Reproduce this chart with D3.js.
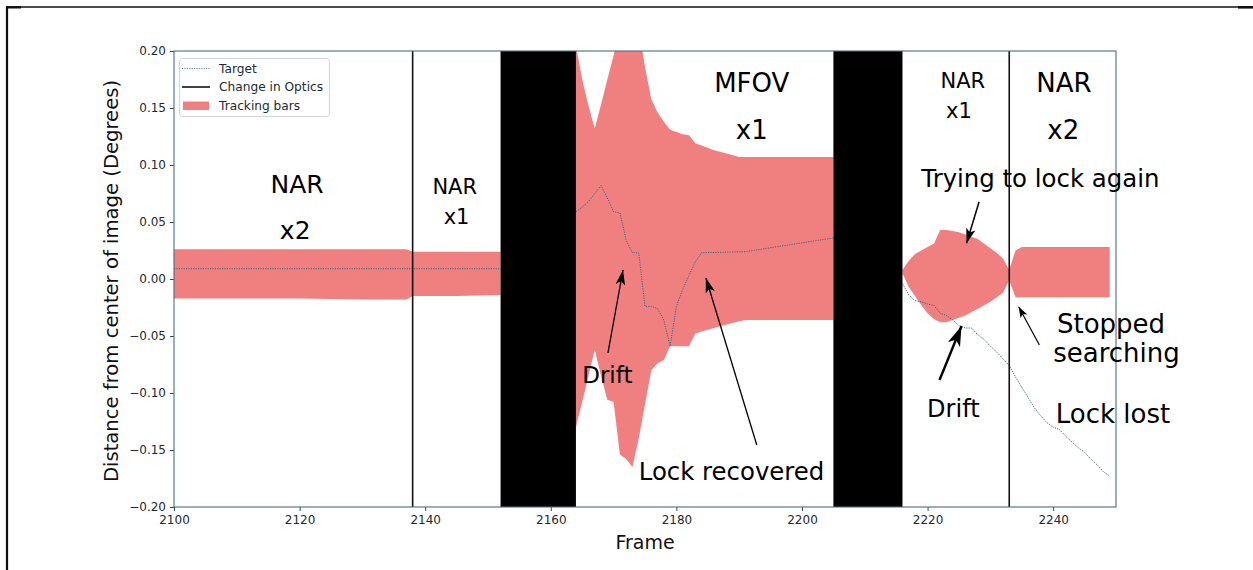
<!DOCTYPE html>
<html><head><meta charset="utf-8">
<script src="https://cdn.jsdelivr.net/npm/d3@7"></script>
<style>
html,body{margin:0;padding:0;background:#fff;}
svg{display:block;font-family:"DejaVu Sans",sans-serif;}
</style></head>
<body>
<svg id="chart" width="1253" height="570"></svg>
<script>
// ---------------- data ----------------
const xTicks = [2100, 2120, 2140, 2160, 2180, 2200, 2220, 2240];
const yTicks = [0.20, 0.15, 0.10, 0.05, 0.00, -0.05, -0.10, -0.15, -0.20];

// tracking bars (null = gap)
const barFrames = [2100,2110,2120,2130,2137,2138,2145,2152, null,
  2164,2165,2166,2167,2168,2169,2170,2171,2172,2173,2174,2175,2176,2177,2178,2179,2180,2181,2182,2183,2184,2186,2188,2190,2191,2205, null,
  2216,2217,2218,2219,2220,2221,2222,2223,2224,2225,2226,2227,2228,2229,2230,2231,2232,2233,2234,2235,2236,2249];
const barUpper = [0.026,0.026,0.026,0.026,0.026,0.024,0.024,0.024, null,
  0.205,0.175,0.152,0.132,0.153,0.175,0.196,0.22,0.22,0.22,0.22,0.186,0.158,0.146,0.138,0.131,0.129,0.127,0.126,0.119,0.117,0.113,0.110,0.107,0.107,0.107, null,
  0.008,0.016,0.022,0.025,0.028,0.031,0.043,0.043,0.042,0.041,0.039,0.037,0.035,0.031,0.027,0.023,0.018,0.008,0.025,0.028,0.028,0.028];
const barLower = [-0.017,-0.017,-0.017,-0.018,-0.018,-0.015,-0.015,-0.014, null,
  -0.130,-0.108,-0.085,-0.062,-0.085,-0.106,-0.108,-0.154,-0.158,-0.165,-0.140,-0.110,-0.080,-0.074,-0.071,-0.059,-0.059,-0.059,-0.059,-0.048,-0.046,-0.043,-0.040,-0.037,-0.036,-0.036, null,
  0.005,-0.007,-0.015,-0.023,-0.030,-0.035,-0.038,-0.038,-0.036,-0.034,-0.032,-0.029,-0.026,-0.023,-0.020,-0.016,-0.012,-0.001,-0.016,-0.016,-0.016,-0.016];

// target position (null = gap)
const targetFrames = [2100,2152, null,
  2164,2165,2166,2167,2168,2169,2170,2171,2172,2173,2174,2175,2176,2177,2178,2179,2180,2181,2182,2183,2184,2191,2198,2205, null,
  2216,2217,2218,2219,2220,2221,2222,2223,2224,2225,2226,2227,2228,2229,2230,2231,2232,2233,2234,2235,2236,2237,2238,2239,2240,2241,2242,2243,2244,2245,2246,2247,2248,2249];
const targetValues = [0.009,0.009, null,
  0.059,0.063,0.068,0.075,0.082,0.071,0.059,0.058,0.034,0.023,0.023,-0.024,-0.024,-0.026,-0.036,-0.059,-0.024,-0.009,0.003,0.015,0.023,0.024,0.030,0.036, null,
  -0.004,-0.014,-0.019,-0.020,-0.022,-0.023,-0.030,-0.032,-0.036,-0.041,-0.043,-0.043,-0.049,-0.053,-0.059,-0.064,-0.070,-0.076,-0.086,-0.095,-0.104,-0.113,-0.120,-0.126,-0.130,-0.132,-0.138,-0.143,-0.148,-0.152,-0.158,-0.163,-0.169,-0.173];

const opticsChanges = [2138, 2233];
const blackoutStart = [2152, 2205];
const blackoutEnd   = [2164, 2216];

// annotation texts: [text, frame, value, anchor, size]
const labelTexts  = ["NAR","x2","NAR","x1","MFOV","x1","NAR","x1","NAR","x2",
  "Trying to lock again","Drift","Lock recovered","Drift","Stopped","searching","Lock lost"];
const labelFrames = [2119.6,2119.3,2144.7,2145.0,2192.0,2192.0,2225.6,2225.0,2241.7,2241.6,
  2119.0+100,2169.0,2174.0,2224.1,2240.6,2240.0,2240.4];
const labelValues = [0.0754,0.0351,0.0746,0.0482,0.164,0.1228,0.1675,0.1412,0.164,0.1228,
  0.0807,-0.0912,-0.1763,-0.121,-0.0474,-0.0728,-0.1263];
const labelAnchor = ["middle","middle","middle","middle","middle","middle","middle","middle","middle","middle",
  "start","middle","start","middle","start","start","start"];
const labelSizes  = [25,25,21,21,26,26,21,21,26,26,24.4,23,24.4,24,26,26,26];

// arrows: from (frame,value) to tip (frame,value)
const arrowFromF = [2169.1, 2192.8, 2228.2, 2221.9, 2237.8];
const arrowFromV = [-0.0649, -0.1456, 0.0678, -0.0886, -0.0579];
const arrowToF   = [2171.5, 2184.7, 2226.2, 2225.4, 2234.5];
const arrowToV   = [0.0079, 0.0009, 0.0313, -0.0412, -0.0243];
const arrowWidth = [1.3, 1.3, 1.5, 2.4, 1.2];

// ---------------- drawing ----------------
const svg = d3.select("#chart");
const W = 1253, H = 570;
const plot = {left:174, right:1116, top:51, bottom:507};
const x = d3.scaleLinear().domain([2100, 2250]).range([plot.left, plot.right]);
const y = d3.scaleLinear().domain([-0.20, 0.20]).range([plot.bottom, plot.top]);

// figure frame
svg.append("line").attr("x1",6).attr("x2",1240).attr("y1",7).attr("y2",7).attr("stroke","#111").attr("stroke-width",1.6);
svg.append("line").attr("x1",1238).attr("x2",1253).attr("y1",7.3).attr("y2",7.3).attr("stroke","#111").attr("stroke-width",2.6);
svg.append("line").attr("x1",7).attr("x2",7).attr("y1",6).attr("y2",570).attr("stroke","#111").attr("stroke-width",2.2);
svg.append("line").attr("x1",6).attr("x2",21).attr("y1",7.3).attr("y2",7.3).attr("stroke","#111").attr("stroke-width",2.4);

svg.append("defs").append("clipPath").attr("id","clip")
  .append("rect").attr("x",plot.left).attr("y",plot.top)
  .attr("width",plot.right-plot.left).attr("height",plot.bottom-plot.top);

const g = svg.append("g").attr("clip-path","url(#clip)");

const bars = barFrames.map((f,i)=>({f, u:barUpper[i], l:barLower[i]}));
const area = d3.area().defined(d=>d.f!=null && d.u!=null)
  .x(d=>x(d.f)).y0(d=>y(d.l)).y1(d=>y(d.u));
g.append("path").datum(bars).attr("d",area).attr("fill","#f08080");

const tgt = targetFrames.map((f,i)=>({f, v:targetValues[i]}));
const line = d3.line().defined(d=>d.f!=null && d.v!=null).x(d=>x(d.f)).y(d=>y(d.v));
g.append("path").datum(tgt).attr("d",line).attr("fill","none")
  .attr("stroke","#3e6580").attr("stroke-width",1).attr("stroke-dasharray","1.2,1.2");

g.selectAll("rect.black").data(blackoutStart).enter().append("rect")
  .attr("x",(d)=>x(d)).attr("width",(d,i)=>x(blackoutEnd[i])-x(d))
  .attr("y",plot.top).attr("height",plot.bottom-plot.top).attr("fill","#000");

g.selectAll("line.optics").data(opticsChanges).enter().append("line")
  .attr("x1",d=>x(d)).attr("x2",d=>x(d)).attr("y1",plot.top).attr("y2",plot.bottom)
  .attr("stroke","#111").attr("stroke-width",1.6);

// axes
const xAxis = d3.axisBottom(x).tickValues(xTicks).tickFormat(d3.format("d")).tickSizeOuter(0).tickSize(4).tickPadding(4);
const yAxis = d3.axisLeft(y).tickValues(yTicks).tickFormat(d=>d3.format(".2f")(d).replace("-","\u2212")).tickSizeOuter(0).tickSize(4).tickPadding(4);
const gx = svg.append("g").attr("transform",`translate(0,${plot.bottom})`).call(xAxis);
const gy = svg.append("g").attr("transform",`translate(${plot.left},0)`).call(yAxis);
[gx,gy].forEach(a=>{
  a.select(".domain").remove();
  a.selectAll("line").attr("stroke","#2d4a58");
  a.selectAll("text").attr("fill","#1c2a33").style("font-size","12px").style("font-family","DejaVu Sans");
});
// spines
svg.append("rect").attr("x",plot.left).attr("y",plot.top)
  .attr("width",plot.right-plot.left).attr("height",plot.bottom-plot.top)
  .attr("fill","none").attr("stroke","#4a6e80").attr("stroke-width",1.1);

// axis labels
svg.append("text").attr("x",(plot.left+plot.right)/2).attr("y",549).attr("text-anchor","middle")
  .style("font-size","19px").attr("fill","#111").text("Frame");
svg.append("text").attr("transform",`translate(118,${(plot.top+plot.bottom)/2+2}) rotate(-90)`)
  .attr("text-anchor","middle").style("font-size","19.6px").attr("fill","#111")
  .text("Distance from center of image (Degrees)");

// annotations
svg.append("g").selectAll("text").data(labelTexts).enter().append("text")
  .attr("x",(d,i)=>x(labelFrames[i])).attr("y",(d,i)=>y(labelValues[i]))
  .attr("text-anchor",(d,i)=>labelAnchor[i])
  .style("font-size",(d,i)=>labelSizes[i]+"px").attr("fill","#000").text(d=>d);

// arrows
const defs = svg.select("defs");
arrowWidth.forEach((w,i)=>{
  const id = "ah"+i;
  const L = i===3 ? 20 : (i===4 ? 11 : 15), Hh = i===3 ? 6.5 : (i===4 ? 3.8 : 4.8);
  defs.append("marker").attr("id",id).attr("viewBox",`0 ${-Hh} ${L} ${2*Hh}`)
    .attr("refX",L).attr("refY",0).attr("markerUnits","userSpaceOnUse")
    .attr("markerWidth",L).attr("markerHeight",2*Hh).attr("orient","auto")
    .append("path").attr("d",`M0,${-Hh} L${L},0 L0,${Hh} L${L*0.25},0 Z`).attr("fill","#000");
  svg.append("line").attr("x1",x(arrowFromF[i])).attr("y1",y(arrowFromV[i]))
    .attr("x2",x(arrowToF[i])).attr("y2",y(arrowToV[i]))
    .attr("stroke","#000").attr("stroke-width",w).attr("marker-end",`url(#${id})`);
});

// legend
const lg = svg.append("g");
lg.append("rect").attr("x",179.5).attr("y",58.5).attr("width",150).attr("height",58).attr("rx",3)
  .attr("fill","#fff").attr("fill-opacity",0.9).attr("stroke","#d0d4d8").attr("stroke-width",1);
lg.append("line").attr("x1",182).attr("x2",210).attr("y1",68.5).attr("y2",68.5)
  .attr("stroke","#5d8aa8").attr("stroke-width",1).attr("stroke-dasharray","1.2,1.2");
lg.append("line").attr("x1",182).attr("x2",210).attr("y1",87).attr("y2",87)
  .attr("stroke","#111").attr("stroke-width",1.6);
lg.append("rect").attr("x",183).attr("y",101.5).attr("width",26).attr("height",8.5).attr("fill","#f08080");
const legendTexts = ["Target","Change in Optics","Tracking bars"];
lg.selectAll("text.lt").data(legendTexts).enter().append("text")
  .attr("x",219).attr("y",(d,i)=>73+i*18.4).style("font-size","12.2px").attr("fill","#1c2a33").text(d=>d);
</script>
</body></html>
